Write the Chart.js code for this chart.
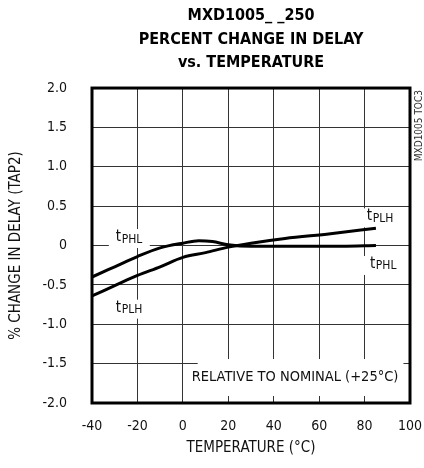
<!DOCTYPE html>
<html>
<head>
<meta charset="utf-8">
<title>MXD1005 percent change in delay vs temperature</title>
<script src="https://cdn.jsdelivr.net/npm/chart.js@4/dist/chart.umd.min.js"></script>
<style>
  html, body { margin: 0; padding: 0; background: #fff; }
  #wrap { width: 424px; height: 468px; }
</style>
</head>
<body>
<div id="wrap"><canvas id="delayChart" width="424" height="468"></canvas></div>
<script>
// ============================================
// DATA
// ============================================

const tphlTemps = [-40, -30, -20, -10, 0, 7, 13, 20, 30, 50, 70, 85];
const tphlPct   = [-0.40, -0.27, -0.14, -0.03, 0.03, 0.06, 0.05, 0.01, -0.01, -0.01, -0.01, 0.00];

const tplhTemps = [-40, -30, -20, -10, 0, 10, 20, 30, 45, 65, 85];
const tplhPct   = [-0.64, -0.51, -0.38, -0.27, -0.15, -0.09, -0.02, 0.03, 0.09, 0.15, 0.22];

const xTickValues = [-40, -20, 0, 20, 40, 60, 80, 100];
const yTickValues = [-2, -1.5, -1, -0.5, 0, 0.5, 1, 1.5, 2];
const yTickLabels = ['-2.0', '-1.5', '-1.0', '-0.5', '0', '0.5', '1.0', '1.5', '2.0'];

const titleLines = ['MXD1005_ _250', 'PERCENT CHANGE IN DELAY', 'vs. TEMPERATURE'];
const xTitle     = 'TEMPERATURE (°C)';
const yTitle     = '% CHANGE IN DELAY (TAP2)';
const noteText   = 'RELATIVE TO NOMINAL (+25°C)';
const sideText   = 'MXD1005 TOC3';

// curve labels, anchored in data units (left edge / baseline of the "t")
const curveLabels = [
  { main: 't', sub: 'PHL', x: -29.5, y: 0.057 },
  { main: 't', sub: 'PLH', x: -29.5, y: -0.84 },
  { main: 't', sub: 'PLH', x: 81,    y: 0.32 },
  { main: 't', sub: 'PHL', x: 82.4,  y: -0.285 }
];
const noteAnchor = { x: 49.4, y: -1.67 };

// ============================================
// STYLE
// ============================================

const FONT = "'Liberation Sans Narrow', 'DejaVu Sans Condensed', 'Liberation Sans', sans-serif";
const INK  = '#111';

const toPoints = (xs, ys) => xs.map((x, i) => ({ x, y: ys[i] }));

// ============================================
// PLUGIN: labels with white backing, frame, side code
// ============================================

const decorations = {
  id: 'decorations',
  beforeDatasetsDraw(chart) {
    const { ctx, scales: { x, y } } = chart;
    ctx.save();
    ctx.textBaseline = 'alphabetic';
    ctx.textAlign = 'left';

    curveLabels.forEach(l => {
      const px = x.getPixelForValue(l.x);
      const py = y.getPixelForValue(l.y);
      ctx.font = `15px ${FONT}`;
      const w1 = ctx.measureText(l.main).width;
      ctx.font = `12px ${FONT}`;
      const w2 = ctx.measureText(l.sub).width;
      ctx.fillStyle = '#fff';
      ctx.fillRect(px - 7, py - 12, w1 + w2 + 15, 19);
      ctx.fillStyle = INK;
      ctx.font = `15px ${FONT}`;
      ctx.fillText(l.main, px, py);
      ctx.font = `12px ${FONT}`;
      ctx.fillText(l.sub, px + w1 + 0.5, py + 1.5);
    });

    const nx = x.getPixelForValue(noteAnchor.x);
    const ny = y.getPixelForValue(noteAnchor.y);
    ctx.font = `14.5px ${FONT}`;
    const nw = ctx.measureText(noteText).width;
    ctx.fillStyle = '#fff';
    ctx.fillRect(nx - nw / 2 + 6, ny - 18, nw - 1, 37);
    ctx.fillStyle = INK;
    ctx.textAlign = 'center';
    ctx.textBaseline = 'middle';
    ctx.fillText(noteText, nx, ny);
    ctx.restore();
  },
  afterDraw(chart) {
    const { ctx, chartArea: a } = chart;
    ctx.save();
    ctx.strokeStyle = '#000';
    ctx.lineWidth = 3;
    ctx.strokeRect(a.left, a.top, a.right - a.left, a.bottom - a.top);

    ctx.translate(a.right + 9, a.top + 2);
    ctx.rotate(-Math.PI / 2);
    ctx.font = `10px ${FONT}`;
    ctx.fillStyle = '#333';
    ctx.textAlign = 'right';
    ctx.textBaseline = 'middle';
    ctx.fillText(sideText, 0, 0);
    ctx.restore();
  }
};

// ============================================
// CHART
// ============================================

new Chart(document.getElementById('delayChart'), {
  type: 'line',
  data: {
    datasets: [
      {
        label: 'tPHL', data: toPoints(tphlTemps, tphlPct),
        borderColor: '#000', borderWidth: 3, pointRadius: 0,
        cubicInterpolationMode: 'monotone', fill: false
      },
      {
        label: 'tPLH', data: toPoints(tplhTemps, tplhPct),
        borderColor: '#000', borderWidth: 3, pointRadius: 0,
        cubicInterpolationMode: 'monotone', fill: false
      }
    ]
  },
  options: {
    responsive: false, animation: false, devicePixelRatio: 1,
    layout: { padding: { top: 0, right: 14, bottom: 0, left: 0 } },
    plugins: {
      legend: { display: false },
      tooltip: { enabled: false },
      title: {
        display: true, text: titleLines, fullSize: false, color: '#000',
        font: { family: FONT, size: 16, weight: 'bold', lineHeight: 1.48 },
        padding: { top: 4, bottom: 13 }
      }
    },
    scales: {
      x: {
        type: 'linear', min: -40, max: 100,
        afterBuildTicks: s => { s.ticks = xTickValues.map(v => ({ value: v })); },
        afterFit: s => { s.height = 65; s.paddingLeft = 0; s.paddingRight = 0; },
        grid: { color: '#333', lineWidth: 1, drawTicks: false },
        border: { display: false },
        ticks: { padding: 15, color: INK, font: { family: FONT, size: 14 }, maxRotation: 0 },
        title: { display: true, text: xTitle, color: INK, padding: { top: 0, bottom: 11 }, font: { family: FONT, size: 15 } }
      },
      y: {
        type: 'linear', min: -2, max: 2,
        afterBuildTicks: s => { s.ticks = yTickValues.map(v => ({ value: v })); },
        afterFit: s => { s.width = 92; },
        grid: { color: '#333', lineWidth: 1, drawTicks: false },
        border: { display: false },
        ticks: {
          padding: 25, color: INK, font: { family: FONT, size: 14 },
          callback: v => yTickLabels[yTickValues.indexOf(v)] ?? ''
        },
        title: { display: true, text: yTitle, color: INK, padding: { top: 7, bottom: 0 }, font: { family: FONT, size: 15 } }
      }
    }
  },
  plugins: [decorations]
});
</script>
</body>
</html>
